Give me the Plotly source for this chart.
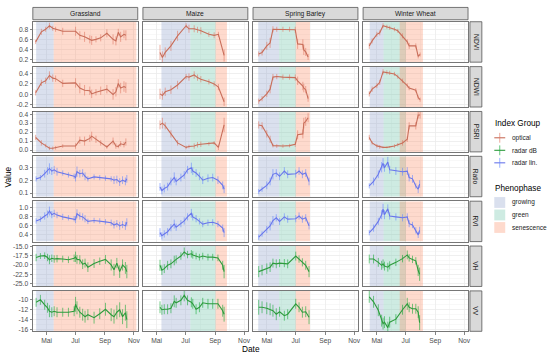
import plotly.graph_objects as go

W, H = 550, 356

crops = ["Grassland", "Maize", "Spring Barley", "Winter Wheat"]
indices = ["NDVI", "NDWI", "PSRI", "Ratio", "RVI", "VH", "VV"]
index_group = {"NDVI": "optical", "NDWI": "optical", "PSRI": "optical",
               "Ratio": "radar lin.", "RVI": "radar lin.", "VH": "radar dB", "VV": "radar dB"}
group_names = ["optical", "radar dB", "radar lin."]
phase_names = ["growing", "green", "senescence"]
x_tick_vals = ["2018-05-01", "2018-07-01", "2018-09-01", "2018-11-01"]
x_tick_text = ["Mai", "Jul", "Sep", "Nov"]

# ---------------- Grassland ----------------
grass_opt_dates = ["2018-04-08", "2018-04-20", "2018-04-29", "2018-05-07", "2018-05-14", "2018-05-20",
                   "2018-06-04", "2018-07-01", "2018-07-10", "2018-07-20", "2018-07-31", "2018-08-04",
                   "2018-08-13", "2018-08-23", "2018-09-05", "2018-09-18", "2018-09-24", "2018-09-29",
                   "2018-10-04", "2018-10-11", "2018-10-15"]
grass_ndvi = [0.55, 0.75, 0.80, 0.87, 0.82, 0.80, 0.76, 0.76, 0.68, 0.65, 0.60, 0.58, 0.60, 0.63, 0.72,
              0.60, 0.57, 0.74, 0.65, 0.70, 0.68]
grass_ndvi_err = [0.04, 0.06, 0.05, 0.06, 0.05, 0.05, 0.07, 0.09, 0.08, 0.10, 0.08, 0.09, 0.06, 0.07, 0.08,
                  0.10, 0.09, 0.07, 0.10, 0.08, 0.10]
grass_ndwi = [0.03, 0.22, 0.26, 0.36, 0.31, 0.30, 0.21, 0.22, 0.12, 0.08, 0.07, 0.01, 0.04, 0.07, 0.10,
              0.00, 0.05, 0.21, 0.12, 0.15, 0.13]
grass_ndwi_err = [0.05, 0.06, 0.06, 0.08, 0.07, 0.06, 0.07, 0.09, 0.10, 0.10, 0.08, 0.08, 0.06, 0.08, 0.08,
                  0.10, 0.09, 0.08, 0.10, 0.10, 0.10]
grass_psri = [0.14, 0.08, 0.05, 0.02, 0.02, 0.025, 0.045, 0.045, 0.11, 0.10, 0.13, 0.155, 0.12, 0.08, 0.035,
              0.10, 0.045, 0.04, 0.07, 0.06, 0.09]
grass_psri_err = [0.03, 0.03, 0.02, 0.02, 0.02, 0.02, 0.02, 0.03, 0.04, 0.05, 0.04, 0.05, 0.04, 0.03, 0.02,
                  0.04, 0.03, 0.02, 0.03, 0.03, 0.04]
grass_rad_dates = ["2018-04-09", "2018-04-18", "2018-04-27", "2018-05-03", "2018-05-07", "2018-05-12",
                   "2018-05-17", "2018-05-23", "2018-06-04", "2018-06-16", "2018-06-28", "2018-07-01",
                   "2018-07-04", "2018-07-10", "2018-07-16", "2018-07-21", "2018-07-27", "2018-08-09",
                   "2018-08-21", "2018-09-02", "2018-09-14", "2018-09-20", "2018-09-26", "2018-10-02",
                   "2018-10-08", "2018-10-14", "2018-10-17"]
grass_ratio = [0.21, 0.22, 0.25, 0.27, 0.29, 0.27, 0.28, 0.265, 0.255, 0.24, 0.23, 0.22, 0.265, 0.25, 0.255,
               0.23, 0.21, 0.225, 0.22, 0.215, 0.21, 0.20, 0.205, 0.185, 0.20, 0.19, 0.21]
grass_ratio_err = [0.02, 0.02, 0.03, 0.03, 0.04, 0.03, 0.03, 0.03, 0.02, 0.02, 0.02, 0.03, 0.04, 0.03, 0.03,
                   0.03, 0.02, 0.02, 0.02, 0.02, 0.02, 0.03, 0.03, 0.03, 0.03, 0.03, 0.03]
grass_rvi = [0.71, 0.75, 0.82, 0.86, 0.93, 0.85, 0.88, 0.84, 0.80, 0.78, 0.76, 0.74, 0.87, 0.82, 0.80, 0.76,
             0.70, 0.72, 0.71, 0.69, 0.67, 0.62, 0.65, 0.60, 0.63, 0.60, 0.68]
grass_rvi_err = [0.06, 0.06, 0.08, 0.08, 0.10, 0.08, 0.08, 0.07, 0.07, 0.06, 0.06, 0.08, 0.10, 0.08, 0.08,
                 0.08, 0.06, 0.06, 0.06, 0.06, 0.07, 0.08, 0.08, 0.09, 0.08, 0.09, 0.09]
grass_vh = [-18.0, -17.6, -17.5, -18.0, -18.6, -18.2, -18.4, -18.3, -18.4, -18.6, -18.2, -17.8, -18.5, -18.6,
            -19.8, -19.5, -20.6, -19.6, -19.0, -18.5, -20.0, -21.3, -19.5, -21.8, -20.0, -20.8, -21.8]
grass_vh_err = [1.0, 0.8, 0.9, 1.0, 1.2, 1.0, 1.0, 1.0, 0.9, 0.9, 1.0, 1.4, 1.2, 1.2, 1.3, 1.2, 1.3, 1.2,
                1.0, 1.2, 1.5, 1.6, 1.4, 1.7, 1.5, 1.6, 1.8]
grass_vv = [-10.5, -10.0, -11.0, -11.6, -12.3, -12.5, -12.3, -12.5, -12.5, -12.5, -12.3, -10.9, -11.6, -12.5,
            -13.0, -13.4, -13.0, -13.6, -12.8, -11.9, -13.0, -13.4, -12.5, -12.0, -13.4, -12.6, -14.0]
grass_vv_err = [0.9, 1.0, 1.0, 1.0, 1.2, 1.0, 1.0, 1.0, 0.9, 0.9, 1.0, 1.5, 1.3, 1.1, 1.2, 1.2, 1.1, 1.2,
                1.1, 1.3, 1.3, 1.4, 1.4, 1.5, 1.5, 1.6, 1.7]

# ---------------- Maize ----------------
maize_opt_dates = ["2018-05-08", "2018-05-13", "2018-05-19", "2018-05-31", "2018-06-14", "2018-07-02",
                   "2018-07-08", "2018-07-19", "2018-07-26", "2018-08-02", "2018-08-19", "2018-08-30",
                   "2018-09-08", "2018-09-20"]
maize_ndvi = [0.34, 0.24, 0.34, 0.47, 0.67, 0.87, 0.81, 0.81, 0.79, 0.77, 0.70, 0.68, 0.70, 0.28]
maize_ndvi_err = [0.15, 0.12, 0.10, 0.10, 0.10, 0.05, 0.08, 0.07, 0.06, 0.07, 0.05, 0.06, 0.05, 0.12]
maize_ndwi = [0.01, -0.02, 0.05, 0.09, 0.18, 0.34, 0.33, 0.37, 0.32, 0.29, 0.24, 0.20, 0.14, -0.14]
maize_ndwi_err = [0.10, 0.08, 0.08, 0.08, 0.08, 0.05, 0.07, 0.07, 0.06, 0.06, 0.05, 0.05, 0.06, 0.08]
maize_psri = [0.28, 0.30, 0.27, 0.18, 0.08, 0.03, 0.04, 0.045, 0.06, 0.065, 0.07, 0.08, 0.03, 0.28]
maize_psri_err = [0.05, 0.06, 0.04, 0.04, 0.03, 0.02, 0.02, 0.03, 0.03, 0.03, 0.02, 0.02, 0.03, 0.08]
maize_rad_dates = ["2018-05-08", "2018-05-12", "2018-05-17", "2018-05-24", "2018-05-31", "2018-06-07",
                   "2018-06-11", "2018-06-21", "2018-06-28", "2018-07-05", "2018-07-13", "2018-07-16",
                   "2018-07-23", "2018-07-30", "2018-08-06", "2018-08-17", "2018-08-27", "2018-09-07",
                   "2018-09-17", "2018-09-20"]
maize_ratio = [0.148, 0.12, 0.135, 0.15, 0.19, 0.22, 0.19, 0.22, 0.24, 0.28, 0.295, 0.27, 0.255, 0.23, 0.20,
               0.215, 0.22, 0.20, 0.16, 0.13]
maize_ratio_err = [0.03, 0.03, 0.03, 0.03, 0.03, 0.04, 0.03, 0.03, 0.03, 0.03, 0.04, 0.03, 0.03, 0.03, 0.03,
                   0.03, 0.03, 0.03, 0.03, 0.03]
maize_rvi = [0.45, 0.38, 0.42, 0.47, 0.56, 0.64, 0.57, 0.65, 0.71, 0.80, 0.88, 0.80, 0.76, 0.70, 0.64, 0.67,
             0.68, 0.64, 0.55, 0.45]
maize_rvi_err = [0.10, 0.08, 0.08, 0.08, 0.08, 0.10, 0.08, 0.08, 0.08, 0.08, 0.10, 0.08, 0.08, 0.07, 0.07,
                 0.07, 0.07, 0.07, 0.08, 0.10]
maize_vh = [-20.1, -21.4, -21.0, -20.1, -19.7, -18.8, -18.5, -17.6, -16.5, -17.2, -17.0, -17.3, -17.6, -17.9,
            -17.6, -17.9, -17.9, -18.1, -20.1, -21.8]
maize_vh_err = [1.5, 1.3, 1.2, 1.2, 1.2, 1.3, 1.1, 1.0, 1.2, 1.0, 1.0, 1.0, 0.9, 0.9, 0.9, 0.9, 0.9, 0.9,
                1.2, 1.8]
maize_vv = [-11.5, -12.0, -11.9, -11.9, -11.7, -10.3, -10.6, -10.1, -9.1, -10.1, -10.5, -10.8, -11.9, -11.5,
            -10.6, -10.8, -10.8, -10.8, -12.2, -12.9]
maize_vv_err = [1.2, 1.0, 1.0, 1.0, 1.0, 1.2, 1.0, 1.0, 1.2, 1.0, 1.0, 1.0, 1.0, 1.0, 1.0, 1.0, 1.0, 1.0,
                1.2, 1.5]

# ---------------- Spring Barley ----------------
barley_opt_dates = ["2018-04-14", "2018-04-21", "2018-05-01", "2018-05-08", "2018-05-14", "2018-05-22",
                    "2018-06-04", "2018-06-18", "2018-06-30", "2018-07-05", "2018-07-16", "2018-07-18",
                    "2018-07-22", "2018-07-27"]
barley_ndvi = [0.31, 0.34, 0.47, 0.53, 0.80, 0.80, 0.80, 0.80, 0.79, 0.51, 0.50, 0.39, 0.35, 0.25]
barley_ndvi_err = [0.05, 0.06, 0.08, 0.10, 0.06, 0.05, 0.05, 0.05, 0.06, 0.10, 0.10, 0.10, 0.08, 0.06]
barley_ndwi = [-0.13, -0.08, 0.01, 0.10, 0.33, 0.34, 0.33, 0.33, 0.32, 0.26, 0.16, 0.12, 0.09, -0.08]
barley_ndwi_err = [0.05, 0.05, 0.06, 0.08, 0.06, 0.05, 0.05, 0.05, 0.06, 0.08, 0.08, 0.08, 0.07, 0.06]
barley_psri = [0.28, 0.27, 0.18, 0.12, 0.05, 0.045, 0.045, 0.05, 0.065, 0.17, 0.18, 0.30, 0.32, 0.36]
barley_psri_err = [0.04, 0.04, 0.04, 0.04, 0.02, 0.02, 0.02, 0.02, 0.03, 0.05, 0.05, 0.06, 0.05, 0.05]
barley_rad_dates = ["2018-04-14", "2018-04-21", "2018-05-01", "2018-05-08", "2018-05-14", "2018-05-21",
                    "2018-05-28", "2018-06-07", "2018-06-14", "2018-07-01", "2018-07-08", "2018-07-15",
                    "2018-07-22", "2018-07-29"]
barley_ratio = [0.112, 0.13, 0.16, 0.19, 0.245, 0.255, 0.23, 0.27, 0.245, 0.25, 0.27, 0.245, 0.255, 0.19]
barley_ratio_err = [0.02, 0.02, 0.03, 0.03, 0.04, 0.03, 0.03, 0.03, 0.03, 0.03, 0.03, 0.03, 0.03, 0.03]
barley_rvi = [0.35, 0.42, 0.52, 0.60, 0.72, 0.78, 0.70, 0.80, 0.75, 0.76, 0.82, 0.75, 0.78, 0.60]
barley_rvi_err = [0.06, 0.06, 0.08, 0.10, 0.10, 0.08, 0.08, 0.08, 0.08, 0.08, 0.08, 0.08, 0.08, 0.08]
barley_vh = [-21.8, -21.4, -21.0, -20.6, -19.5, -19.7, -19.5, -19.5, -19.7, -17.6, -18.4, -19.3, -20.1, -21.8]
barley_vh_err = [1.5, 1.4, 1.4, 1.3, 1.2, 1.2, 1.1, 1.1, 1.2, 1.2, 1.0, 1.1, 1.2, 1.5]
barley_vv = [-11.5, -11.5, -11.7, -11.9, -12.2, -12.9, -12.4, -13.2, -12.9, -10.8, -11.5, -12.5, -12.4, -13.5]
barley_vv_err = [1.5, 1.2, 1.2, 1.2, 1.2, 1.2, 1.0, 1.0, 1.0, 1.0, 1.0, 1.1, 1.1, 1.4]

# ---------------- Winter Wheat ----------------
wheat_opt_dates = ["2018-04-15", "2018-04-21", "2018-05-01", "2018-05-07", "2018-05-14", "2018-05-22",
                   "2018-05-28", "2018-06-07", "2018-06-14", "2018-06-24", "2018-07-04", "2018-07-08",
                   "2018-07-22", "2018-07-27", "2018-07-31"]
wheat_ndvi = [0.47, 0.57, 0.70, 0.73, 0.87, 0.85, 0.83, 0.80, 0.77, 0.67, 0.55, 0.47, 0.47, 0.26, 0.30]
wheat_ndvi_err = [0.06, 0.05, 0.05, 0.05, 0.05, 0.04, 0.04, 0.04, 0.04, 0.05, 0.05, 0.06, 0.05, 0.04, 0.04]
wheat_ndwi = [0.01, 0.10, 0.17, 0.23, 0.43, 0.42, 0.41, 0.39, 0.34, 0.26, 0.17, 0.12, 0.08, -0.06, -0.10]
wheat_ndwi_err = [0.05, 0.05, 0.05, 0.05, 0.05, 0.04, 0.04, 0.04, 0.04, 0.04, 0.04, 0.04, 0.04, 0.04, 0.04]
wheat_psri = [0.14, 0.08, 0.047, 0.035, 0.03, 0.03, 0.035, 0.045, 0.06, 0.08, 0.12, 0.27, 0.27, 0.39, 0.39]
wheat_psri_err = [0.03, 0.02, 0.02, 0.02, 0.01, 0.01, 0.01, 0.02, 0.02, 0.03, 0.03, 0.04, 0.04, 0.04, 0.04]
wheat_rad_dates = ["2018-04-15", "2018-04-24", "2018-05-04", "2018-05-11", "2018-05-14", "2018-05-17",
                   "2018-05-24", "2018-05-28", "2018-06-10", "2018-06-24", "2018-07-04", "2018-07-08",
                   "2018-07-15", "2018-07-22", "2018-07-27", "2018-07-30"]
wheat_ratio = [0.156, 0.19, 0.245, 0.30, 0.33, 0.295, 0.34, 0.28, 0.27, 0.265, 0.27, 0.22, 0.21, 0.155,
               0.13, 0.17]
wheat_ratio_err = [0.02, 0.03, 0.03, 0.04, 0.04, 0.03, 0.04, 0.03, 0.03, 0.03, 0.03, 0.03, 0.03, 0.02,
                   0.03, 0.03]
wheat_rvi = [0.45, 0.55, 0.70, 0.85, 0.97, 0.85, 0.98, 0.82, 0.80, 0.78, 0.80, 0.65, 0.62, 0.50, 0.40, 0.50]
wheat_rvi_err = [0.06, 0.08, 0.08, 0.10, 0.12, 0.10, 0.10, 0.08, 0.08, 0.08, 0.08, 0.08, 0.07, 0.07, 0.07,
                 0.08]
wheat_vh = [-18.4, -18.4, -19.3, -20.1, -19.7, -20.3, -20.6, -20.1, -19.3, -18.3, -17.3, -18.1, -18.5,
            -18.9, -21.5, -22.5]
wheat_vh_err = [1.2, 1.2, 1.2, 1.2, 1.2, 1.2, 1.2, 1.1, 1.0, 1.0, 1.2, 1.0, 1.0, 1.0, 1.5, 1.8]
wheat_vv = [-9.4, -10.4, -12.1, -14.2, -14.8, -14.5, -15.6, -14.5, -13.9, -12.0, -10.8, -11.5, -11.8,
            -11.8, -12.5, -14.6]
wheat_vv_err = [1.2, 1.2, 1.2, 1.2, 1.2, 1.2, 1.2, 1.1, 1.0, 1.0, 1.2, 1.0, 1.0, 1.0, 1.2, 1.5]

# ---------------- Phenophases ----------------
phase_crop = ["Grassland", "Grassland",
              "Maize", "Maize", "Maize",
              "Spring Barley", "Spring Barley", "Spring Barley",
              "Winter Wheat", "Winter Wheat", "Winter Wheat"]
phase_name = ["growing", "senescence",
              "growing", "green", "senescence",
              "growing", "green", "senescence",
              "growing", "green", "senescence"]
phase_start = ["2018-04-09", "2018-05-16",
               "2018-05-11", "2018-07-11", "2018-09-02",
               "2018-04-13", "2018-05-27", "2018-07-01",
               "2018-04-16", "2018-05-15", "2018-06-18"]
phase_end = ["2018-05-16", "2018-11-06",
             "2018-07-11", "2018-09-02", "2018-09-26",
             "2018-05-27", "2018-07-01", "2018-07-31",
             "2018-05-15", "2018-07-01", "2018-08-06"]

series = {
    ("Grassland", "NDVI"): (grass_opt_dates, grass_ndvi, grass_ndvi_err),
    ("Grassland", "NDWI"): (grass_opt_dates, grass_ndwi, grass_ndwi_err),
    ("Grassland", "PSRI"): (grass_opt_dates, grass_psri, grass_psri_err),
    ("Grassland", "Ratio"): (grass_rad_dates, grass_ratio, grass_ratio_err),
    ("Grassland", "RVI"): (grass_rad_dates, grass_rvi, grass_rvi_err),
    ("Grassland", "VH"): (grass_rad_dates, grass_vh, grass_vh_err),
    ("Grassland", "VV"): (grass_rad_dates, grass_vv, grass_vv_err),
    ("Maize", "NDVI"): (maize_opt_dates, maize_ndvi, maize_ndvi_err),
    ("Maize", "NDWI"): (maize_opt_dates, maize_ndwi, maize_ndwi_err),
    ("Maize", "PSRI"): (maize_opt_dates, maize_psri, maize_psri_err),
    ("Maize", "Ratio"): (maize_rad_dates, maize_ratio, maize_ratio_err),
    ("Maize", "RVI"): (maize_rad_dates, maize_rvi, maize_rvi_err),
    ("Maize", "VH"): (maize_rad_dates, maize_vh, maize_vh_err),
    ("Maize", "VV"): (maize_rad_dates, maize_vv, maize_vv_err),
    ("Spring Barley", "NDVI"): (barley_opt_dates, barley_ndvi, barley_ndvi_err),
    ("Spring Barley", "NDWI"): (barley_opt_dates, barley_ndwi, barley_ndwi_err),
    ("Spring Barley", "PSRI"): (barley_opt_dates, barley_psri, barley_psri_err),
    ("Spring Barley", "Ratio"): (barley_rad_dates, barley_ratio, barley_ratio_err),
    ("Spring Barley", "RVI"): (barley_rad_dates, barley_rvi, barley_rvi_err),
    ("Spring Barley", "VH"): (barley_rad_dates, barley_vh, barley_vh_err),
    ("Spring Barley", "VV"): (barley_rad_dates, barley_vv, barley_vv_err),
    ("Winter Wheat", "NDVI"): (wheat_opt_dates, wheat_ndvi, wheat_ndvi_err),
    ("Winter Wheat", "NDWI"): (wheat_opt_dates, wheat_ndwi, wheat_ndwi_err),
    ("Winter Wheat", "PSRI"): (wheat_opt_dates, wheat_psri, wheat_psri_err),
    ("Winter Wheat", "Ratio"): (wheat_rad_dates, wheat_ratio, wheat_ratio_err),
    ("Winter Wheat", "RVI"): (wheat_rad_dates, wheat_rvi, wheat_rvi_err),
    ("Winter Wheat", "VH"): (wheat_rad_dates, wheat_vh, wheat_vh_err),
    ("Winter Wheat", "VV"): (wheat_rad_dates, wheat_vv, wheat_vv_err),
}

# ---------------- styling ----------------
FONT = "Liberation Sans, Arial, sans-serif"
line_color = {"optical": "rgb(200,110,90)", "radar dB": "rgb(45,155,60)", "radar lin.": "rgb(105,118,235)"}
err_color = {"optical": "rgba(225,120,100,0.65)", "radar dB": "rgba(20,170,55,0.65)",
             "radar lin.": "rgba(100,135,255,0.65)"}
phase_color = {"growing": "rgba(141,160,203,0.32)", "green": "rgba(102,194,165,0.32)",
               "senescence": "rgba(252,141,98,0.32)"}

y_cfg = {
    "NDVI": dict(range=[0.147, 0.95], tickvals=[0.2, 0.4, 0.6, 0.8], ticktext=["0.2", "0.4", "0.6", "0.8"],
                 minor=[0.3, 0.5, 0.7, 0.9]),
    "NDWI": dict(range=[-0.24, 0.53], tickvals=[-0.2, 0.0, 0.2, 0.4], ticktext=["-0.2", "0.0", "0.2", "0.4"],
                 minor=[-0.1, 0.1, 0.3, 0.5]),
    "PSRI": dict(range=[-0.02, 0.43], tickvals=[0.0, 0.1, 0.2, 0.3, 0.4],
                 ticktext=["0.0", "0.1", "0.2", "0.3", "0.4"], minor=[0.05, 0.15, 0.25, 0.35]),
    "Ratio": dict(range=[0.072, 0.384], tickvals=[0.1, 0.2, 0.3], ticktext=["0.1", "0.2", "0.3"],
                  minor=[0.15, 0.25, 0.35]),
    "RVI": dict(range=[0.25, 1.15], tickvals=[0.4, 0.6, 0.8, 1.0], ticktext=["0.4", "0.6", "0.8", "1.0"],
                minor=[0.3, 0.5, 0.7, 0.9, 1.1]),
    "VH": dict(range=[-25.8, -14.9], tickvals=[-25, -22.5, -20, -17.5, -15],
               ticktext=["-25.0", "-22.5", "-20.0", "-17.5", "-15.0"], minor=[-23.75, -21.25, -18.75, -16.25]),
    "VV": dict(range=[-16.35, -8.2], tickvals=[-16, -14, -12, -10], ticktext=["-16", "-14", "-12", "-10"],
               minor=[-15, -13, -11, -9]),
}

col_left = [33, 143.7, 254.4, 365.1]
col_w = 105.5
row_top = [19, 64.5, 110, 155.5, 201, 246.5, 292]
row_h = 41
x_range = ["2018-04-02", "2018-11-09"]


def px(x):
    return x / W


def py(y):
    return 1 - y / H


fig = go.Figure()
layout = {}
shapes = []
annotations = []

for r, idx in enumerate(indices):
    for c, crop in enumerate(crops):
        k = r * 4 + c + 1
        xa = "xaxis" if k == 1 else f"xaxis{k}"
        ya = "yaxis" if k == 1 else f"yaxis{k}"
        xr = "x" if k == 1 else f"x{k}"
        yr = "y" if k == 1 else f"y{k}"
        cfg = y_cfg[idx]
        bottom = r == len(indices) - 1
        left = c == 0
        layout[xa] = dict(
            domain=[px(col_left[c]), px(col_left[c] + col_w)], anchor=yr, type="date", range=x_range,
            tickvals=x_tick_vals, ticktext=x_tick_text, showticklabels=bottom,
            ticks="outside" if bottom else "", ticklen=2.5, tickcolor="#333333", tickwidth=0.6,
            tickfont=dict(size=6.7, color="#4d4d4d", family=FONT),
            showgrid=True, gridcolor="#ebebeb", gridwidth=0.8,
            minor=dict(tickvals=["2018-04-01", "2018-06-01", "2018-08-01", "2018-10-01"], showgrid=True,
                       gridcolor="#f2f2f2", gridwidth=0.5, ticks=""),
            showline=True, mirror=True, linecolor="#555555", linewidth=0.8, zeroline=False, fixedrange=True,
        )
        layout[ya] = dict(
            domain=[py(row_top[r] + row_h), py(row_top[r])], anchor=xr, range=cfg["range"],
            tickvals=cfg["tickvals"], ticktext=cfg["ticktext"], showticklabels=left,
            ticks="outside" if left else "", ticklen=2.5, tickcolor="#333333", tickwidth=0.6,
            tickfont=dict(size=6.7, color="#4d4d4d", family=FONT),
            showgrid=True, gridcolor="#ebebeb", gridwidth=0.8,
            minor=dict(tickvals=cfg["minor"], showgrid=True, gridcolor="#f2f2f2", gridwidth=0.5, ticks=""),
            showline=True, mirror=True, linecolor="#555555", linewidth=0.8, zeroline=False, fixedrange=True,
        )
        # phenophase background rectangles (full panel height, between grid and data)
        for pc, pn, ps, pe in zip(phase_crop, phase_name, phase_start, phase_end):
            if pc == crop:
                shapes.append(dict(type="rect", xref=xr, yref=yr, x0=ps, x1=pe,
                                   y0=cfg["range"][0], y1=cfg["range"][1],
                                   fillcolor=phase_color[pn], line=dict(width=0), layer="between"))
        dates, vals, errs = series[(crop, idx)]
        g = index_group[idx]
        fig.add_trace(go.Scatter(
            x=dates, y=vals, mode="lines", xaxis=xr, yaxis=yr, showlegend=False,
            line=dict(color=line_color[g], width=1.1),
            error_y=dict(type="data", array=errs, visible=True, thickness=0.9, width=0, color=err_color[g]),
            name=g,
        ))

# facet strips (top)
for c, crop in enumerate(crops):
    shapes.append(dict(type="rect", xref="paper", yref="paper", x0=px(col_left[c]), x1=px(col_left[c] + col_w),
                       y0=py(17), y1=py(4.5), fillcolor="#d9d9d9", line=dict(color="#555555", width=0.8)))
    annotations.append(dict(text=crop, xref="paper", yref="paper", x=px(col_left[c] + col_w / 2),
                            y=py(10.8), showarrow=False, font=dict(size=6.7, color="#1a1a1a", family=FONT),
                            xanchor="center", yanchor="middle"))
# facet strips (right)
for r, idx in enumerate(indices):
    shapes.append(dict(type="rect", xref="paper", yref="paper", x0=px(472.5), x1=px(484.5),
                       y0=py(row_top[r] + row_h), y1=py(row_top[r]), fillcolor="#d9d9d9",
                       line=dict(color="#555555", width=0.8)))
    annotations.append(dict(text=idx, xref="paper", yref="paper", x=px(478.5), y=py(row_top[r] + row_h / 2),
                            showarrow=False, textangle=90, font=dict(size=6.7, color="#1a1a1a", family=FONT),
                            xanchor="center", yanchor="middle"))

# axis titles
annotations.append(dict(text="Value", xref="paper", yref="paper", x=px(8), y=py(176), showarrow=False,
                        textangle=-90, xanchor="center", yanchor="middle",
                        font=dict(size=8.3, color="#000000", family=FONT)))
annotations.append(dict(text="Date", xref="paper", yref="paper", x=px(252), y=py(350.5), showarrow=False,
                        xanchor="center", yanchor="middle",
                        font=dict(size=8.3, color="#000000", family=FONT)))

# legends (drawn as key glyphs + labels)
annotations.append(dict(text="Index Group", xref="paper", yref="paper", x=px(496), y=py(122.5), showarrow=False,
                        xanchor="left", yanchor="middle", font=dict(size=8.2, color="#000000", family=FONT)))
for i, g in enumerate(group_names):
    yc = 136.7 + i * 12.7
    shapes.append(dict(type="line", xref="paper", yref="paper", x0=px(497), x1=px(508), y0=py(yc), y1=py(yc),
                       line=dict(color=line_color[g], width=1.1)))
    shapes.append(dict(type="line", xref="paper", yref="paper", x0=px(502.5), x1=px(502.5), y0=py(yc - 5),
                       y1=py(yc + 5), line=dict(color=err_color[g], width=1)))
    annotations.append(dict(text=g, xref="paper", yref="paper", x=px(512.5), y=py(yc), showarrow=False,
                            xanchor="left", yanchor="middle", font=dict(size=6.5, color="#1a1a1a", family=FONT)))
annotations.append(dict(text="Phenophase", xref="paper", yref="paper", x=px(496), y=py(188.3), showarrow=False,
                        xanchor="left", yanchor="middle", font=dict(size=8.2, color="#000000", family=FONT)))
for i, p in enumerate(phase_names):
    yc = 202.3 + i * 12.7
    shapes.append(dict(type="rect", xref="paper", yref="paper", x0=px(497), x1=px(508), y0=py(yc + 5.5),
                       y1=py(yc - 5.5), fillcolor=phase_color[p], line=dict(width=0)))
    annotations.append(dict(text=p, xref="paper", yref="paper", x=px(512.5), y=py(yc), showarrow=False,
                            xanchor="left", yanchor="middle", font=dict(size=6.5, color="#1a1a1a", family=FONT)))

fig.update_layout(
    width=W, height=H, margin=dict(l=0, r=0, t=0, b=0),
    paper_bgcolor="white", plot_bgcolor="white",
    font=dict(family=FONT), showlegend=False,
    shapes=shapes, annotations=annotations, **layout,
)

fig.write_html("out.html", config={"displayModeBar": False, "staticPlot": True})

# remove the browser's default page margin so the 550x356 figure fills the window exactly
with open("out.html", encoding="utf-8") as f:
    html = f.read()
html = html.replace("<head>", "<head><style>html,body{margin:0;padding:0;overflow:hidden}</style>", 1)
with open("out.html", "w", encoding="utf-8") as f:
    f.write(html)
